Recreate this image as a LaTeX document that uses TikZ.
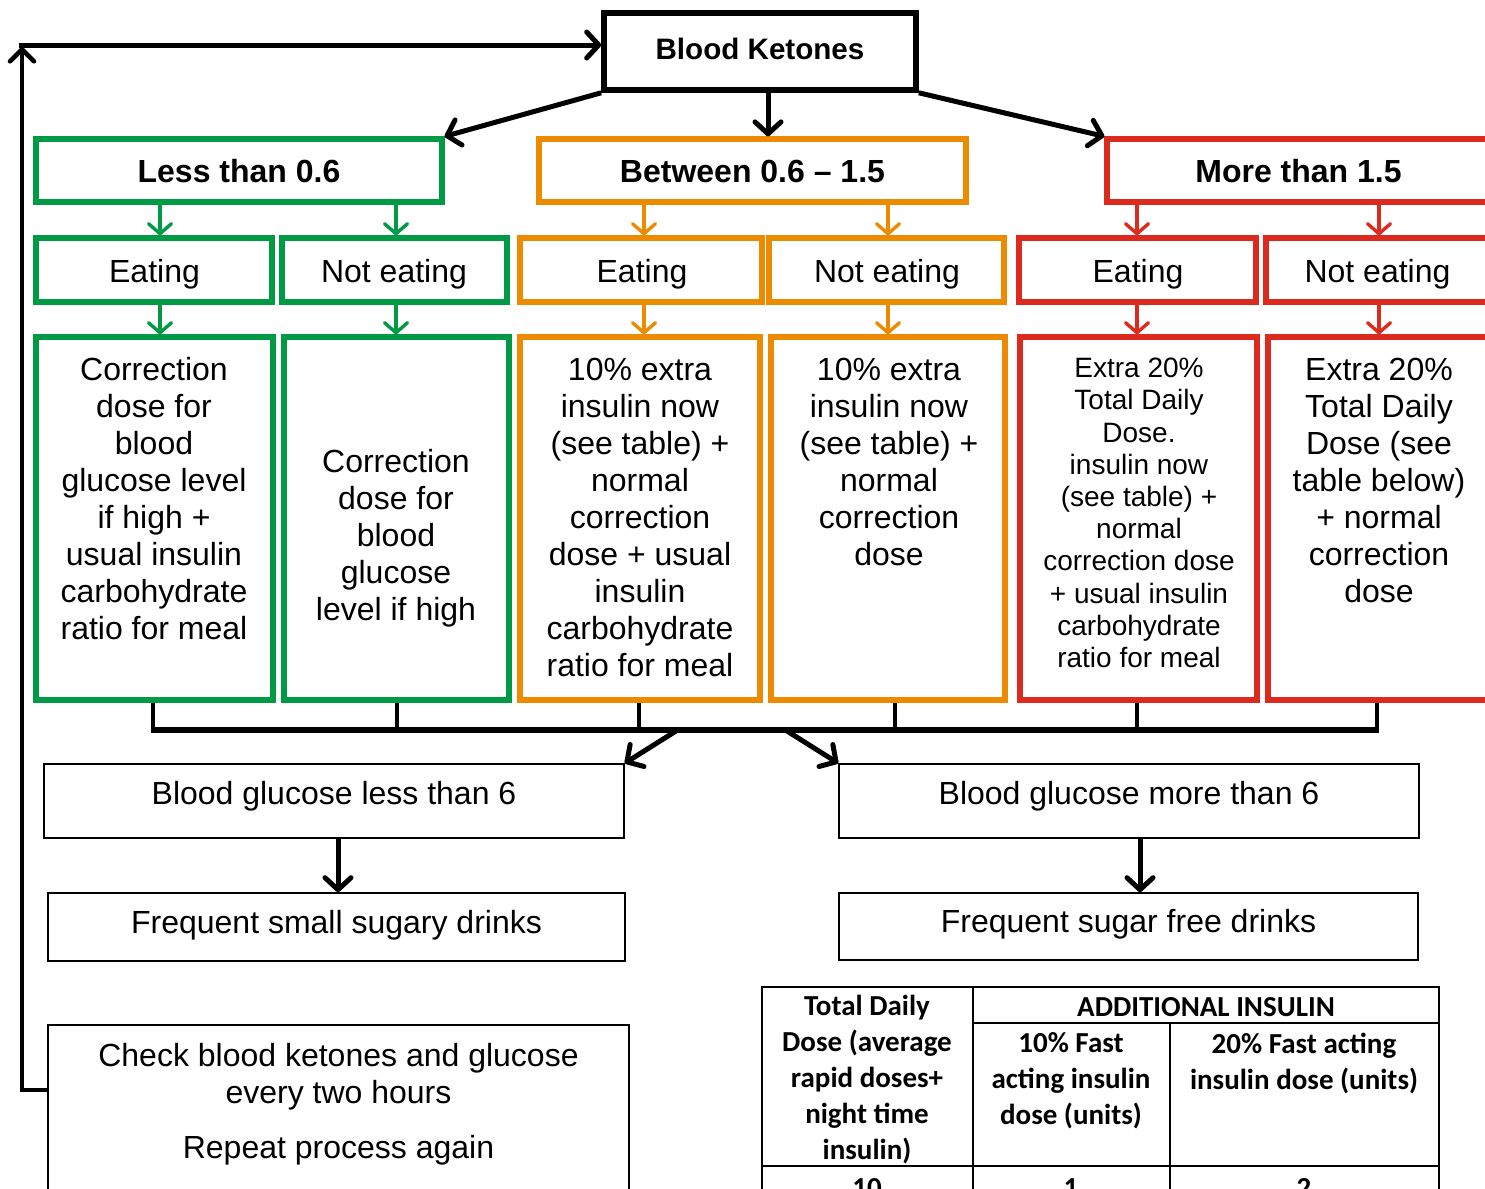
\documentclass[tikz,border=0pt]{standalone}
\usepackage{fontspec}
\setmainfont{Liberation Sans}
\newfontfamily\tabfont{Carlito}
\usetikzlibrary{arrows.meta,fit}
\definecolor{kgreen}{RGB}{0,153,68}
\definecolor{korange}{RGB}{237,139,0}
\definecolor{kred}{RGB}{221,42,30}
\begin{document}
\begin{tikzpicture}[x=0.5pt,y=-0.5pt,
 gb/.style={draw=kgreen,line width=2.6pt,inner sep=0pt},
 ob/.style={draw=korange,line width=2.6pt,inner sep=0pt},
 rb/.style={draw=kred,line width=2.6pt,inner sep=0pt},
 kb/.style={draw=black,line width=2.8pt,inner sep=0pt},
 tb/.style={draw=black,line width=0.8pt,inner sep=0pt},
 hd/.style={inner sep=0pt,font=\bfseries\fontsize{16}{18.5}\selectfont},
 nt/.style={inner sep=0pt,font=\fontsize{16}{18.5}\selectfont},
 tx/.style={align=center,inner sep=0pt,font=\fontsize{16}{18.5}\selectfont},
 stx/.style={align=center,inner sep=0pt,font=\fontsize{14}{16.1}\selectfont},
 ttx/.style={align=center,inner sep=0pt,font=\tabfont\bfseries\fontsize{14.5}{18}\selectfont},
 karrow/.style={line width=2.5pt,-{Straight Barb[length=6pt,width=13pt,round]}},
 larrow/.style={line width=2.3pt,-{Straight Barb[length=6pt,width=12pt,round]}},
 carrow/.style={line width=1.7pt,-{Straight Barb[length=5pt,width=11.5pt,round]}},
 bus/.style={line width=2.6pt},
 drop/.style={line width=2.2pt},
 tline/.style={line width=1pt},
]
\useasboundingbox (0,0) rectangle (1485,1189);
\clip (0,0) rectangle (1485,1189);

% top
\node[kb,fit={(604,13)(916,90)}] (BK) {};
\node[inner sep=0pt,font=\bfseries\fontsize{14.8}{17}\selectfont] (tBK) at (760,49) {Blood Ketones};

% headers
\node[gb,fit={(36,139)(442,202)}] (gH) {};
\node[ob,fit={(539,139)(966,202)}] (oH) {};
\node[rb,fit={(1107,139)(1490,202)}] (rH) {};
\node[hd] (tgH) at (239,171) {Less than 0.6};
\node[hd] (toH) at (752.5,171) {Between 0.6 -- 1.5};
\node[hd] (trH) at (1298.5,171) {More than 1.5};

% eating row
\node[gb,fit={(36,238)(272,302)}] (gE) {};
\node[gb,fit={(282,238)(507,302)}] (gN) {};
\node[ob,fit={(520,238)(762,302)}] (oE) {};
\node[ob,fit={(769,238)(1004,302)}] (oN) {};
\node[rb,fit={(1019,238)(1256,302)}] (rE) {};
\node[rb,fit={(1266,238)(1490,302)}] (rN) {};
\node[nt] (tgE) at (154.5,274) {Eating};
\node[nt] (tgN) at (394,274) {Not eating};
\node[nt] (toE) at (642,274) {Eating};
\node[nt] (toN) at (887,274) {Not eating};
\node[nt] (trE) at (1138,274) {Eating};
\node[nt] (trN) at (1377.5,274) {Not eating};

% content boxes
\node[gb,fit={(36,337)(273,700)}] (gC1) {};
\node[gb,fit={(284,337)(509,700)}] (gC2) {};
\node[ob,fit={(520,337)(760,700)}] (oC1) {};
\node[ob,fit={(771,337)(1005,700)}] (oC2) {};
\node[rb,fit={(1020,337)(1257,700)}] (rC1) {};
\node[rb,fit={(1268,337)(1490,700)}] (rC2) {};

\node[tx] (tgC1) at (154,499) {Correction\\dose for\\blood\\glucose level\\if high +\\usual insulin\\carbohydrate\\ratio for meal};
\node[tx] (tgC2) at (396,538) {Correction\\dose for\\blood\\glucose\\level if high};
\node[tx] (toC1) at (640,517) {10\% extra\\insulin now\\(see table) +\\normal\\correction\\dose + usual\\insulin\\carbohydrate\\ratio for meal};
\node[tx] (toC2) at (889,462) {10\% extra\\insulin now\\(see table) +\\normal\\correction\\dose};
\node[stx] (trC1) at (1139,513) {Extra 20\%\\Total Daily\\Dose.\\insulin now\\(see table) +\\normal\\correction dose\\+ usual insulin\\carbohydrate\\ratio for meal};
\node[tx] (trC2) at (1379,480.5) {Extra 20\%\\Total Daily\\Dose (see\\table below)\\+ normal\\correction\\dose};

% coloured arrows
\coordinate (a1) at (160,0);
\coordinate (a2) at (396,0);
\coordinate (a3) at (644,0);
\coordinate (a4) at (888,0);
\coordinate (a5) at (1137,0);
\coordinate (a6) at (1379,0);
\draw[carrow,kgreen] (gH.south -| a1) -- (gE.north -| a1);
\draw[carrow,kgreen] (gH.south -| a2) -- (gN.north -| a2);
\draw[carrow,korange] (oH.south -| a3) -- (oE.north -| a3);
\draw[carrow,korange] (oH.south -| a4) -- (oN.north -| a4);
\draw[carrow,kred] (rH.south -| a5) -- (rE.north -| a5);
\draw[carrow,kred] (rH.south -| a6) -- (rN.north -| a6);
\draw[carrow,kgreen] (gE.south -| a1) -- (gC1.north -| a1);
\draw[carrow,kgreen] (gN.south -| a2) -- (gC2.north -| a2);
\draw[carrow,korange] (oE.south -| a3) -- (oC1.north -| a3);
\draw[carrow,korange] (oN.south -| a4) -- (oC2.north -| a4);
\draw[carrow,kred] (rE.south -| a5) -- (rC1.north -| a5);
\draw[carrow,kred] (rN.south -| a6) -- (rC2.north -| a6);

% top arrows
\coordinate (mid) at (768,0);
\draw[karrow] (BK.south west) -- (gH.north east);
\draw[karrow] (BK.south -| mid) -- (oH.north -| mid);
\draw[karrow] (BK.south east) -- (rH.north west);

% bus
\coordinate (d1) at (153,730);
\coordinate (d2) at (397,730);
\coordinate (d3) at (639,730);
\coordinate (d4) at (895,730);
\coordinate (d5) at (1137,730);
\coordinate (d6) at (1377,730);
\draw[drop] (gC1.south -| d1) -- (d1);
\draw[drop] (gC2.south -| d2) -- (d2);
\draw[drop] (oC1.south -| d3) -- (d3);
\draw[drop] (oC2.south -| d4) -- (d4);
\draw[drop] (rC1.south -| d5) -- (d5);
\draw[drop] (rC2.south -| d6) -- (d6);
\draw[bus] ([xshift=-1.1pt]d1) -- ([xshift=1.1pt]d6);

% glucose boxes
\node[tb,fit={(44,764)(624,838)}] (lt6) {};
\node[tb,fit={(839,764)(1419,838)}] (gt6) {};
\node[tx] (tlt6) at (334,796) {Blood glucose less than 6};
\node[tx] (tgt6) at (1129,796) {Blood glucose more than 6};
\coordinate (sL) at (676,731);
\coordinate (sR) at (787,731);
\draw[karrow] (sL) -- (lt6.north east);
\draw[karrow] (sR) -- (gt6.north west);

\node[tb,fit={(48,893)(625,961)}] (fs1) {};
\node[tb,fit={(839,893)(1418,960)}] (fs2) {};
\node[tx] (tfs1) at (336.5,925) {Frequent small sugary drinks};
\node[tx] (tfs2) at (1128.5,924) {Frequent sugar free drinks};
\coordinate (b1) at (338,0);
\coordinate (b2) at (1140,0);
\draw[karrow] (lt6.south -| b1) -- (fs1.north -| b1);
\draw[karrow] (gt6.south -| b2) -- (fs2.north -| b2);

% check box
\node[tb,fit={(48,1025)(629,1210)}] (chk) {};
\node[tx] (tchk) at (338.5,1104) {Check blood ketones and glucose\\every two hours\\[9pt]Repeat process again};

% loop
\coordinate (lb) at (22,1090);
\coordinate (lt) at (22,47);
\coordinate (ltop) at (19,45);
\draw[larrow] (chk.west |- lb) -| (lt);
\draw[karrow] (ltop) -- (BK.west |- ltop);

% table
\draw[tline] (762,987) rectangle (1439,1215);
\draw[tline] (973,987) -- (973,1215);
\draw[tline] (1170,1023) -- (1170,1215);
\draw[tline] (973,1023) -- (1439,1023);
\draw[tline] (762,1166) -- (1439,1166);
\node[ttx] (th1) at (867,1080) {Total Daily\\Dose (average\\rapid doses+\\night time\\insulin)};
\node[ttx] (th2) at (1206,1007) {ADDITIONAL INSULIN};
\node[ttx] (th3) at (1071,1081) {10\% Fast\\acting insulin\\dose (units)};
\node[ttx] (th4) at (1304,1063) {20\% Fast acting\\insulin dose (units)};
\node[ttx] (tr1) at (867,1188) {10};
\node[ttx] (tr2) at (1071,1188) {1};
\node[ttx] (tr3) at (1304,1188) {2};
\end{tikzpicture}
\end{document}
